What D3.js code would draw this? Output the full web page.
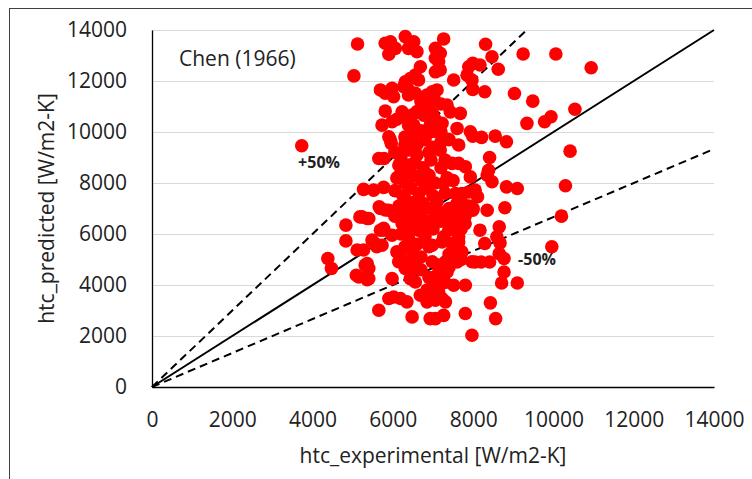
<!DOCTYPE html>
<html><head><meta charset="utf-8">
<script src="https://cdn.jsdelivr.net/npm/d3@7"></script>
<style>body{margin:0;background:#fff}svg{display:block}</style>
</head><body>
<svg id="c" width="752" height="479"></svg>
<script>
const xTicks = [0,2000,4000,6000,8000,10000,12000,14000];
const yTicks = [0,2000,4000,6000,8000,10000,12000,14000];
const chartTitle = "Chen (1966)";
const xLabel = "htc_experimental [W/m2-K]";
const yLabel = "htc_predicted [W/m2-K]";
const refLines = [
  {name:"perfect", factor:1.0, dashed:false},
  {name:"+50%", factor:1.5, dashed:true},
  {name:"-50%", factor:1/1.5, dashed:true}
];
const refLabels = [
  {text:"+50%", x:3640, y:8580},
  {text:"-50%", x:9120, y:4780}
];
// [htc_experimental, htc_predicted]
const points = [
 [3730,9460],[4380,5040],[4470,4650],[4830,6350],[4830,5730],[5030,12200],[5120,13450],[5090,4380],[5360,4210],[5360,4840],
 [5110,5370],[5270,5370],[5310,4780],[5400,4650],[5150,4320],[5400,4250],[5560,5630],[5730,5560],[5180,6670],[5360,6610],
 [5230,6670],[5400,6610],[5270,7750],[5520,7720],[5770,7830],[5650,8960],[5780,8960],[5690,7000],[5810,6940],[5770,6220],
 [5690,6150],[5980,5950],[5650,3010],[5900,3470],[6020,3530],[6190,3470],[6350,3340],[6480,2750],[5980,4250],[6145,4910],
 [6310,4650],[6480,4650],[6560,4780],[6435,4250],[6560,4120],[6685,3600],[6850,3340],[7060,3400],[7225,3470],[7310,3340],
 [6930,2680],[7060,2680],[7265,2810],[6850,3800],[6980,3800],[7140,3730],[7515,3990],[7805,3990],[7805,2880],[7970,2030],
 [8430,3300],[8560,2680],[6980,4910],[7140,4780],[7310,4910],[7140,4510],[7350,4510],[7560,5170],[7720,5300],[7970,4910],
 [6980,5560],[7225,5690],[7475,5630],[7640,5690],[5480,5760],[5600,5500],[5660,7070],[5900,6930],[5780,6150],
 [5810,13480],[5940,13540],[5900,13050],[6060,13280],[6310,13740],[6520,13540],[6390,13280],[6600,13150],[7265,13650],[7060,13280],
 [7180,13090],[7060,12890],[7140,12760],[7060,12360],[7180,12430],[6685,12560],[6560,12230],[6435,12100],[6310,11970],[6270,11780],
 [6640,12040],[7890,12560],[7850,12230],[7970,12040],[7515,12040],[8310,13440],[8470,12950],[8625,12460],[8170,12630],[7990,12690],
 [9245,13060],[10060,13060],[10940,12520],
 [5690,11650],[5810,11520],[5980,11710],[6020,11380],[6390,11650],[6390,11450],[6560,11520],[6730,11250],[6850,11450],[7020,11320],
 [7100,11650],[6980,11580],[6810,10860],[6770,10660],[7350,11060],[7430,10790],[5810,10820],[5980,10400],[5730,10270],[6230,10790],
 [6480,10660],[6520,10270],[6390,10270],[7060,10470],[6930,10270],[7225,10340],[7680,10730],[7600,10140],[7930,10010],[7990,11670],
 [8290,11580],[9030,11510],[9485,11210],[10535,10890],[9340,10340],[9780,10400],[9940,10600],
 [5940,9680],[5900,9810],[5960,9550],[6480,10000],[6700,10050],[6900,9980],[7100,10000],[7180,9290],[7640,9490],
 [7990,9840],[8210,9790],[8550,9840],[8830,9620],[10415,9250],[7475,8770],[7640,8770],[7805,8640],[7930,8240],[7890,7650],
 [7720,7590],[7560,7590],[7600,7200],[7805,7000],[7100,7260],[7100,6940],[7265,7980],[8410,9000],[8385,8500],[8350,8310],
 [8470,8050],[8830,7850],[9100,7785],[10300,7890],[8350,6930],[8790,7030],[10200,6700],[8050,7720],[8110,7460],[8000,7000],
 [7430,6610],[7515,6280],[7640,6150],[7390,6150],[7265,5890],[7640,5890],[6230,6410],[6480,6280],[6640,6150],[6390,6020],
 [8650,6280],[8590,5890],[8670,5650],[8290,5630],[8170,6150],[8650,5230],[8770,5040],[8410,4900],[8050,4900],[8200,4900],
 [9960,5500],[8770,4510],[8710,4080],[9100,4080],[7690,7330],[7870,7070],[7990,6930],
 [6050,9200],[6200,9000],[6400,9300],[6600,9500],[6800,9700],[7000,9400],[6300,9800],[6500,9900],[6150,8700],[6350,8500],
 [6550,8800],[6750,8600],[6950,8900],[6100,8200],[6300,8000],[6500,8300],[6700,8100],[6900,8300],[7050,8000],[6050,7700],
 [6250,7500],[6450,7800],[6650,7600],[6850,7800],[7000,7500],[6150,7100],[6350,7300],[6550,7000],[6750,7200],[6950,7000],
 [6050,6700],[6250,6800],[6450,6600],[6650,6800],[6850,6500],[7050,6700],[6200,6000],[6400,5800],[6600,5600],[6800,5900],
 [7000,6200],[6500,5300],[6700,5100],[6300,5500],[6900,5500],[6600,9100],[6400,8700],[6800,8400],[6200,8400],[6600,7300],
 [6400,7000],[6800,7000],[6500,6400],[6700,6300],[6300,9500],[6900,9200],[7200,8600],[7300,8900],[7200,9600],[7400,9700],
 [7350,8200],[7500,8100],[7300,7600],[7400,7000],[7200,6500],[7300,6800],[6100,5300],[6200,5100],[6400,4900],[6600,5000],
 [6700,4600],[6900,4300],[7100,4200],[7300,4100],[7400,4700],[7500,5400],[7600,4900],[7700,5000],[7400,5200],[7800,6400],
 [7700,6200],[7500,6500],[7600,6700],[7800,6700],[7900,7100],[7700,7300],[6100,10500],[6300,10600],[6600,10800],[6900,11000],
 [7200,11100],[6700,11200],[7000,10700],[7200,10000]
];

const svg = d3.select("#c");
const W = 752, H = 479;
const m = {left:152, right:714, top:30, bottom:387};
const x = d3.scaleLinear().domain([0,14000]).range([m.left, m.right]);
const y = d3.scaleLinear().domain([0,14000]).range([m.bottom, m.top]);
const font = "'Open Sans', 'Liberation Sans', sans-serif";

// outer frame
svg.append("rect").attr("x",9.5).attr("y",8.5).attr("width",W+20).attr("height",H+20)
  .attr("fill","none").attr("stroke","#404040").attr("stroke-width",1);

// gridlines
svg.append("g").selectAll("line").data(yTicks.filter(d=>d>0)).join("line")
  .attr("x1",x(0)).attr("x2",x(14000))
  .attr("y1",d=>Math.round(y(d))+0.5).attr("y2",d=>Math.round(y(d))+0.5)
  .attr("stroke","#d9d9d9").attr("stroke-width",1);

// axes
const xAxis = svg.append("g").attr("transform",`translate(0,${m.bottom})`)
  .call(d3.axisBottom(x).tickValues(xTicks).tickSize(0).tickSizeOuter(0).tickPadding(33).tickFormat(d3.format("d")));
const yAxis = svg.append("g").attr("transform",`translate(${m.left},0)`)
  .call(d3.axisLeft(y).tickValues(yTicks).tickSize(0).tickSizeOuter(0).tickPadding(25).tickFormat(d3.format("d")));
[xAxis,yAxis].forEach(g=>{
  g.select(".domain").attr("stroke","#000").attr("stroke-width",1.3);
  g.selectAll("text").attr("font-family",font).attr("font-size",21).attr("fill","#222");
});
xAxis.selectAll("text").attr("dy","0.32em");

// reference lines
const line = d3.line().x(d=>x(d[0])).y(d=>y(d[1]));
refLines.forEach(r=>{
  const xEnd = Math.min(14000, 14000/r.factor);
  svg.append("path").datum([[0,0],[xEnd,xEnd*r.factor]])
    .attr("d",line).attr("fill","none").attr("stroke","#000").attr("stroke-width",2)
    .attr("stroke-dasharray", r.dashed ? "8,5" : null);
});

// points
svg.append("g").selectAll("circle").data(points).join("circle")
  .attr("cx",d=>x(d[0])).attr("cy",d=>y(d[1])).attr("r",6.8).attr("fill","#ff0000");

// labels
svg.selectAll(".rl").data(refLabels).join("text").attr("class","rl")
  .attr("x",d=>x(d.x)).attr("y",d=>y(d.y))
  .attr("font-family",font).attr("font-size",16).attr("font-weight","bold").attr("fill","#222")
  .text(d=>d.text);

svg.append("text").attr("x",179).attr("y",66).attr("font-family",font).attr("font-size",21).attr("fill","#222").text(chartTitle);

svg.append("text").attr("x",(m.left+m.right)/2).attr("y",463).attr("text-anchor","middle")
  .attr("font-family",font).attr("font-size",21).attr("fill","#222").text(xLabel);
svg.append("text").attr("transform",`translate(54,${(m.top+m.bottom)/2}) rotate(-90)`).attr("text-anchor","middle")
  .attr("font-family",font).attr("font-size",21).attr("fill","#222").text(yLabel);
</script>
</body></html>
